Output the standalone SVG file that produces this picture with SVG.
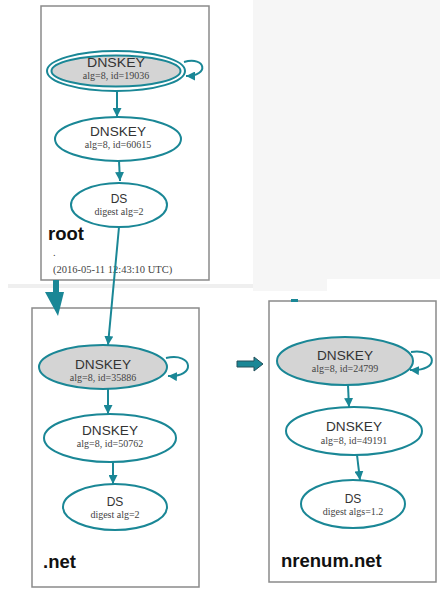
<svg xmlns="http://www.w3.org/2000/svg" width="440" height="589" viewBox="0 0 440 589">
<style>
.box{fill:#fff;stroke:#8a8a8a;stroke-width:1.5}
.node{fill:#fff;stroke:#1a8796;stroke-width:2}
.key{fill:#d4d4d4;stroke:#1a8796;stroke-width:2}
.edge{fill:none;stroke:#1a8796;stroke-width:2}
.t1{font-family:"Liberation Sans",Arial,sans-serif;font-size:12px;fill:#333;text-anchor:middle}
.t2{font-family:"Liberation Serif","Times New Roman",serif;font-size:10px;fill:#444;text-anchor:middle}
.lbl{font-family:"Liberation Sans",Arial,sans-serif;font-weight:bold;font-size:18.5px;fill:#111}
.ts{font-family:"Liberation Serif","Times New Roman",serif;font-size:10.5px;fill:#444}
</style>
<defs>
<marker id="ah" viewBox="0 0 10 10" refX="10" refY="5" markerWidth="4.5" markerHeight="4.5" orient="auto" markerUnits="strokeWidth">
<path d="M0,0 L10,5 L0,10 z" fill="#1a8796"/>
</marker>
</defs>
<rect x="0" y="0" width="440" height="589" fill="#fff"/>
<path d="M253,0 H440 V279 H327 V291 H253 Z" fill="#f6f6f6"/>
<rect x="8" y="284" width="245" height="4" fill="#efefef"/>

<g id="zone-root">
<rect class="box" x="41" y="6" width="168" height="274"/>
<text class="lbl" x="48" y="240">root</text>
<text class="ts" x="53" y="256">.</text>
<text class="ts" x="53" y="273">(2016-05-11 12:43:10 UTC)</text>
</g>
<g id="zone-net">
<rect class="box" x="32" y="308" width="167" height="279"/>
<text class="lbl" x="43" y="568">.net</text>
</g>
<g id="zone-nrenum">
<rect class="box" x="269" y="301" width="167" height="281"/>
<rect x="291" y="299" width="7" height="3" fill="#1a8796"/>
<text class="lbl" x="281" y="567">nrenum.net</text>
</g>

<g id="connectors">
<path class="edge" d="M184,62 C206,56 210,76 186,76" marker-end="url(#ah)"/>
<path class="edge" d="M117,91 L117,117" marker-end="url(#ah)"/>
<path class="edge" d="M119,161 L120,181" marker-end="url(#ah)"/>
<path class="edge" d="M119,227 L108,345" marker-end="url(#ah)"/>
<path class="edge" d="M166,358 C194,352 196,378 168,376" marker-end="url(#ah)"/>
<path class="edge" d="M108,389 L108,414" marker-end="url(#ah)"/>
<path class="edge" d="M113,461 L113,484" marker-end="url(#ah)"/>
<path class="edge" d="M411,352 C438,348 440,372 410,370" marker-end="url(#ah)"/>
<path class="edge" d="M348,385 L349,407" marker-end="url(#ah)"/>
<path class="edge" d="M357,455 L360,480" marker-end="url(#ah)"/>
<path d="M53,280 H59 V292 H64 L58,316 L45,292 H53 Z" fill="#1a8796"/>
<path d="M237,361 H254 V357 L263,364 L254,371 V367 H237 Z" fill="#1a8796" stroke="#24505a" stroke-width="1"/>
</g>

<g id="root-ksk">
<ellipse class="node" cx="116" cy="71" rx="69" ry="20"/>
<ellipse class="key" cx="116" cy="71" rx="64.5" ry="15.5"/>
<text class="t1" x="116" y="67" textLength="58" lengthAdjust="spacingAndGlyphs">DNSKEY</text>
<text class="t2" x="116" y="78.5">alg=8, id=19036</text>
</g>
<g id="root-zsk">
<ellipse class="node" cx="118" cy="139" rx="63" ry="22"/>
<text class="t1" x="118" y="136" textLength="56" lengthAdjust="spacingAndGlyphs">DNSKEY</text>
<text class="t2" x="118" y="148">alg=8, id=60615</text>
</g>
<g id="root-ds">
<ellipse class="node" cx="119" cy="205" rx="48" ry="22"/>
<text class="t1" x="119" y="203">DS</text>
<text class="t2" x="119" y="215">digest alg=2</text>
</g>

<g id="net-ksk">
<ellipse class="key" cx="103" cy="367" rx="64" ry="22"/>
<text class="t1" x="103" y="369" textLength="56" lengthAdjust="spacingAndGlyphs">DNSKEY</text>
<text class="t2" x="103" y="381">alg=8, id=35886</text>
</g>
<g id="net-zsk">
<ellipse class="node" cx="110" cy="438" rx="66" ry="24"/>
<text class="t1" x="110" y="435" textLength="56" lengthAdjust="spacingAndGlyphs">DNSKEY</text>
<text class="t2" x="110" y="447">alg=8, id=50762</text>
</g>
<g id="net-ds">
<ellipse class="node" cx="115" cy="507" rx="52" ry="23"/>
<text class="t1" x="115" y="506">DS</text>
<text class="t2" x="115" y="518">digest alg=2</text>
</g>

<g id="nrenum-ksk">
<ellipse class="key" cx="345" cy="361" rx="68" ry="24"/>
<text class="t1" x="345" y="360" textLength="56" lengthAdjust="spacingAndGlyphs">DNSKEY</text>
<text class="t2" x="345" y="372">alg=8, id=24799</text>
</g>
<g id="nrenum-zsk">
<ellipse class="node" cx="354" cy="431" rx="68" ry="24"/>
<text class="t1" x="354" y="431" textLength="56" lengthAdjust="spacingAndGlyphs">DNSKEY</text>
<text class="t2" x="354" y="444">alg=8, id=49191</text>
</g>
<g id="nrenum-ds">
<ellipse class="node" cx="353" cy="504" rx="52" ry="24"/>
<text class="t1" x="353" y="503">DS</text>
<text class="t2" x="353" y="515">digest algs=1.2</text>
</g>
</svg>
